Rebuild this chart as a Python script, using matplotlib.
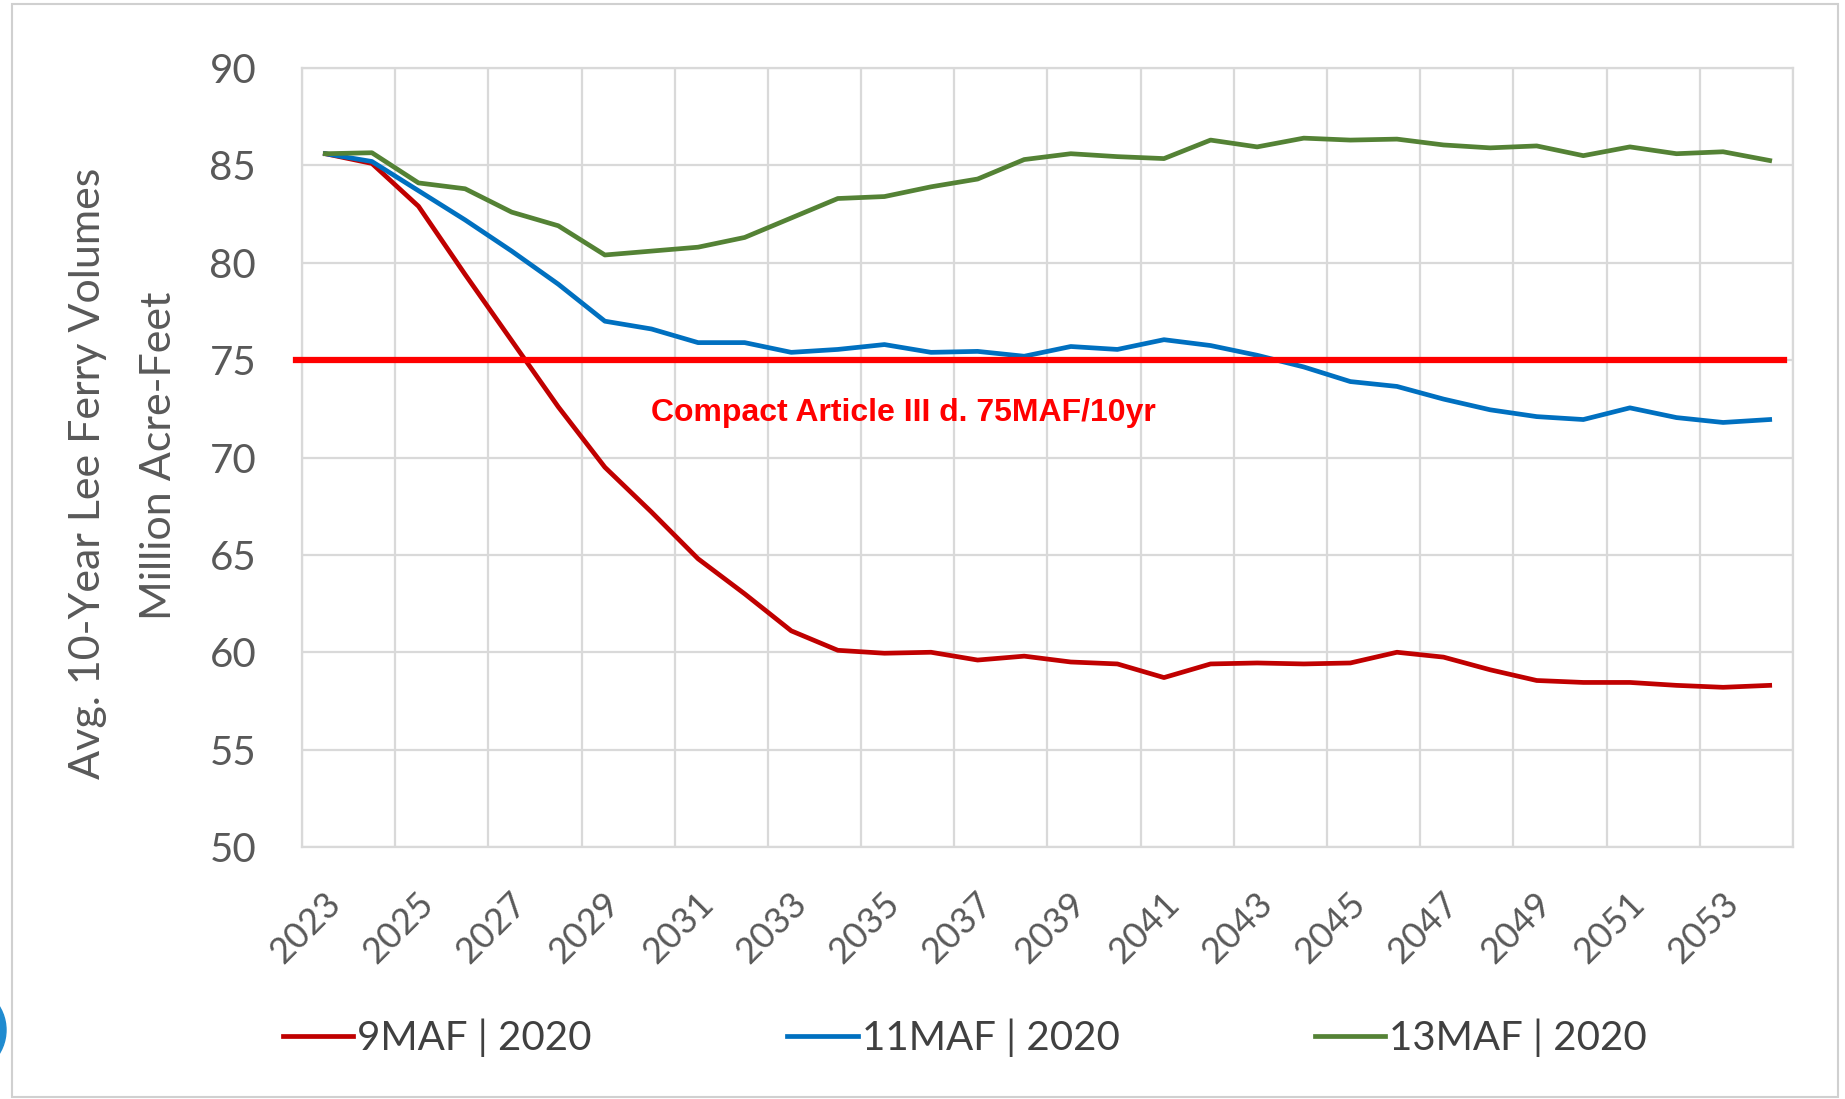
import numpy as np
import matplotlib
matplotlib.use('Agg')
import matplotlib.pyplot as plt
import matplotlib.transforms as mtransforms
from matplotlib.patches import Rectangle, Ellipse

# Years and the three 10-year average series (million acre-feet)
years = list(range(2023, 2055))
maf9 = [85.6, 85.1, 82.9, 79.4, 76.0, 72.6, 69.5, 67.2, 64.8, 63.0,
        61.1, 60.1, 59.95, 60.0, 59.6, 59.8, 59.5, 59.4, 58.7, 59.4,
        59.45, 59.4, 59.45, 60.0, 59.75, 59.1, 58.55, 58.45, 58.45, 58.3,
        58.2, 58.3]
maf11 = [85.6, 85.2, 83.7, 82.2, 80.6, 78.9, 77.0, 76.6, 75.9, 75.9,
         75.4, 75.55, 75.8, 75.4, 75.45, 75.2, 75.7, 75.55, 76.05, 75.75,
         75.25, 74.65, 73.9, 73.65, 73.0, 72.45, 72.1, 71.95, 72.55, 72.05,
         71.8, 71.95]
maf13 = [85.6, 85.65, 84.1, 83.8, 82.6, 81.9, 80.4, 80.6, 80.8, 81.3,
         82.3, 83.3, 83.4, 83.9, 84.3, 85.3, 85.6, 85.45, 85.35, 86.3,
         85.95, 86.4, 86.3, 86.35, 86.05, 85.9, 86.0, 85.5, 85.95, 85.6,
         85.7, 85.25]
series_labels = ['9MAF | 2020', '11MAF | 2020', '13MAF | 2020']
tick_years = list(range(2023, 2055, 2))
y_ticks = list(range(50, 95, 5))
compact_level = 75
compact_text = 'Compact Article III d. 75MAF/10yr'

plt.rcParams['font.family'] = ['Lato', 'DejaVu Sans']

fig = plt.figure(figsize=(18.45, 10.99), dpi=100)
ax = fig.add_axes([0.1637, 0.2293, 0.8081, 0.7088])

ax.plot(years, maf9, color='#C00000', lw=3.4, label=series_labels[0])
ax.plot(years, maf11, color='#0070C0', lw=3.4, label=series_labels[1])
ax.plot(years, maf13, color='#548235', lw=3.4, label=series_labels[2])

# Compact threshold line
ax.plot([2022.37, 2054.3], [compact_level, compact_level], color='#FF0000',
        lw=4.5, clip_on=False, zorder=5)
ax.text(2030.0, 72.3, compact_text, color='#FF0000', fontweight='bold',
        fontsize=23, ha='left', va='center',
        family=['Liberation Sans Narrow', 'Liberation Sans', 'DejaVu Sans'])

ax.set_xlim(2022.5, 2054.5)
ax.set_ylim(50, 90)
ax.set_yticks(y_ticks)
ax.set_xticks(tick_years)
ax.set_xticks(np.arange(2022.5, 2055, 2), minor=True)
ax.grid(which='minor', axis='x', color='#D9D9D9', lw=1.6)
ax.grid(which='major', axis='y', color='#D9D9D9', lw=1.6)
ax.grid(which='major', axis='x', visible=False)
ax.set_axisbelow(True)
for sp in ax.spines.values():
    sp.set_color('#D9D9D9')
    sp.set_linewidth(1.6)

ax.tick_params(which='both', length=0)
ax.tick_params(axis='y', labelsize=29, pad=33, labelcolor='#595959')
ax.tick_params(axis='x', labelsize=26, pad=37, labelcolor='#595959')
shift = mtransforms.ScaledTranslation(7 / 72, 0, fig.dpi_scale_trans)
for lbl in ax.get_xticklabels():
    lbl.set_rotation(45)
    lbl.set_ha('right')
    lbl.set_va('center')
    lbl.set_rotation_mode('anchor')
    lbl.set_transform(lbl.get_transform() + shift)

# y-axis titles
fig.text(88 / 1845, 1 - 473 / 1099, 'Avg. 10-Year Lee Ferry Volumes',
         rotation=90, ha='center', va='center', fontsize=31, color='#595959')
fig.text(159 / 1845, 1 - 456 / 1099, 'Million Acre-Feet',
         rotation=90, ha='center', va='center', fontsize=31, color='#595959')

fig.legend(loc='center', bbox_to_anchor=(0.523, 0.0555), ncol=3, frameon=False,
           fontsize=29, handlelength=1.75, handletextpad=0.1, columnspacing=4.85,
           labelcolor='#404040')

# outer frame and the cut-off blue dot at the left edge
fig.add_artist(Rectangle((0.0065, 0.0018), 0.9897, 0.9946, transform=fig.transFigure,
                         fill=False, edgecolor='#D0D0D0', lw=1.5))
fig.add_artist(Ellipse((-39 / 1845, 1 - 1030 / 1099), 90 / 1845, 90 / 1099,
                       transform=fig.transFigure, color='#1F8BD0'))

fig.savefig('out.png', dpi=100)
